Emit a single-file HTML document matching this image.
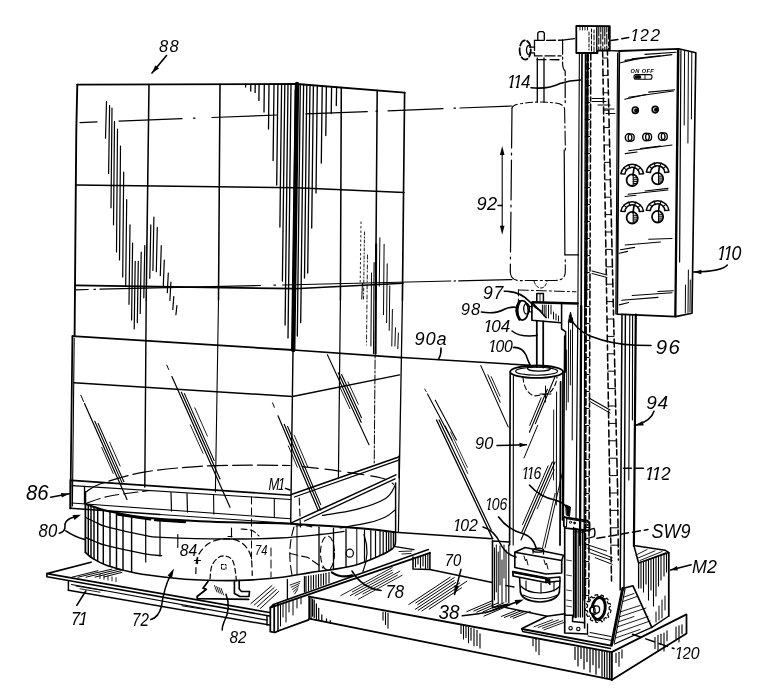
<!DOCTYPE html>
<html><head><meta charset="utf-8"><title>Fig</title>
<style>
html,body{margin:0;padding:0;background:#fff;}
body{width:770px;height:690px;overflow:hidden;}
svg{display:block;will-change:transform;opacity:0.999}
svg text{font-family:"Liberation Sans",sans-serif;font-style:italic;fill:#000;stroke:none}
</style></head><body>
<svg width="770" height="690" viewBox="0 0 770 690" fill="none" stroke="#000" stroke-linecap="round" stroke-linejoin="round">
<rect x="0" y="0" width="770" height="690" fill="#fff" stroke="none"/>
<path d="M77.3 84.6 L297 84 L404.6 92.6" stroke-width="1.87" fill="none"/>
<path d="M77.3 84.6 L76.3 130 L75.7 200 L74.6 336" stroke-width="1.87" fill="none"/>
<line x1="297" y1="84" x2="293.2" y2="350" stroke-width="4.4"/>
<line x1="295.3" y1="90" x2="292.6" y2="345" stroke-width="1.32"/>
<line x1="293" y1="350" x2="290.7" y2="523" stroke-width="1.43"/>
<line x1="404.6" y1="92.6" x2="402.4" y2="300" stroke-width="1.65"/>
<line x1="402.4" y1="300" x2="399.4" y2="470" stroke-width="1.32"/>
<line x1="399.4" y1="470" x2="398.4" y2="532.5" stroke-width="1.21"/>
<line x1="149" y1="84.5" x2="146.2" y2="300" stroke-width="1.54"/>
<line x1="146.2" y1="300" x2="144.8" y2="487" stroke-width="1.43"/>
<line x1="220" y1="84.3" x2="218.5" y2="300" stroke-width="1.54"/>
<line x1="218.5" y1="300" x2="215.4" y2="492" stroke-width="1.1"/>
<line x1="341.3" y1="87.5" x2="340.4" y2="300" stroke-width="1.54"/>
<line x1="340.4" y1="300" x2="338.4" y2="478" stroke-width="1.21"/>
<line x1="377.2" y1="90.4" x2="375.6" y2="300" stroke-width="1.54"/>
<line x1="375.6" y1="300" x2="374.2" y2="464" stroke-width="0.99" stroke-dasharray="9 2 2 2"/>
<line x1="76.2" y1="185.1" x2="296" y2="187.8" stroke-width="1.54"/>
<line x1="75.5" y1="285.3" x2="294.3" y2="288.7" stroke-width="1.76"/>
<line x1="296" y1="187.8" x2="404" y2="192.5" stroke-width="1.54"/>
<line x1="294.3" y1="288.7" x2="403" y2="283.2" stroke-width="1.54"/>
<line x1="72.6" y1="336.1" x2="293.2" y2="350" stroke-width="1.76"/>
<line x1="293.2" y1="350" x2="402" y2="357.6" stroke-width="1.65"/>
<line x1="72.4" y1="336.1" x2="70.4" y2="508.3" stroke-width="1.76"/>
<line x1="74.2" y1="338" x2="72.4" y2="506" stroke-width="1.1"/>
<line x1="74" y1="382.7" x2="292.5" y2="396.5" stroke-width="1.43"/>
<line x1="292.5" y1="396.5" x2="399.6" y2="374.9" stroke-width="1.43"/>
<line x1="80" y1="122.6" x2="97" y2="121.9" stroke-width="1.21"/>
<line x1="119" y1="121.1" x2="182" y2="118.7" stroke-width="1.21"/>
<line x1="193.5" y1="118.2" x2="195" y2="118.2" stroke-width="1.21"/>
<line x1="212" y1="117.5" x2="277.4" y2="115" stroke-width="1.21"/>
<line x1="306" y1="113.9" x2="367.3" y2="111.6" stroke-width="1.21"/>
<line x1="376" y1="111.2" x2="377.5" y2="111.2" stroke-width="1.21"/>
<line x1="388" y1="110.8" x2="443" y2="108.7" stroke-width="1.21"/>
<line x1="454" y1="108.2" x2="455.5" y2="108.2" stroke-width="1.21"/>
<line x1="460" y1="108" x2="512" y2="106" stroke-width="1.21"/>
<line x1="76" y1="289.8" x2="88.2" y2="289.5" stroke-width="1.21"/>
<line x1="94" y1="289.4" x2="95.5" y2="289.3" stroke-width="1.21"/>
<line x1="100" y1="289.2" x2="260.4" y2="285.5" stroke-width="1.21"/>
<line x1="274" y1="285.2" x2="275.5" y2="285.1" stroke-width="1.21"/>
<line x1="282.6" y1="285" x2="450.8" y2="281" stroke-width="1.21"/>
<line x1="454" y1="281" x2="455.5" y2="280.9" stroke-width="1.21"/>
<line x1="458.7" y1="280.8" x2="512" y2="279.6" stroke-width="1.21"/>
<line x1="106.5" y1="101.7" x2="105.5" y2="138.2" stroke-width="1.21"/>
<line x1="109.6" y1="105.6" x2="108.6" y2="173.4" stroke-width="1.21"/>
<line x1="112" y1="108.2" x2="111" y2="207.8" stroke-width="1.21"/>
<line x1="114.5" y1="121.3" x2="113.5" y2="224.8" stroke-width="1.21"/>
<line x1="117.5" y1="129" x2="116.5" y2="252" stroke-width="1.21"/>
<line x1="120.5" y1="146" x2="119.5" y2="260" stroke-width="1.21"/>
<line x1="123.7" y1="172" x2="122.7" y2="277" stroke-width="1.21"/>
<line x1="126.7" y1="199.5" x2="125.7" y2="286" stroke-width="1.21"/>
<line x1="130" y1="224.8" x2="129" y2="304.3" stroke-width="1.21"/>
<line x1="132.6" y1="243" x2="131.6" y2="320" stroke-width="1.21"/>
<line x1="135.2" y1="261.3" x2="134.2" y2="329" stroke-width="1.21"/>
<line x1="138.3" y1="261.3" x2="137.3" y2="322.6" stroke-width="1.21"/>
<line x1="141.2" y1="252" x2="140.2" y2="313.4" stroke-width="1.21"/>
<line x1="144.8" y1="245.6" x2="143.8" y2="297.8" stroke-width="1.21"/>
<line x1="150.8" y1="224.8" x2="149.8" y2="278.2" stroke-width="1.21"/>
<line x1="153.9" y1="217" x2="152.9" y2="270.4" stroke-width="1.21"/>
<line x1="157.3" y1="227.4" x2="156.3" y2="271.7" stroke-width="1.21"/>
<line x1="161.3" y1="245.6" x2="160.3" y2="275.6" stroke-width="1.21"/>
<line x1="164.3" y1="260" x2="163.3" y2="286" stroke-width="1.21"/>
<line x1="168.3" y1="273" x2="167.3" y2="292.6" stroke-width="1.21"/>
<line x1="170.9" y1="282" x2="169.9" y2="300.4" stroke-width="1.21"/>
<line x1="173.8" y1="296.5" x2="172.8" y2="309.5" stroke-width="1.21"/>
<line x1="176.9" y1="305.6" x2="175.9" y2="314.7" stroke-width="1.21"/>
<line x1="245.6" y1="84.3" x2="245.6" y2="87" stroke-width="1.32"/>
<line x1="250.8" y1="84.3" x2="250.7" y2="91" stroke-width="1.32"/>
<line x1="255.2" y1="84.3" x2="255.1" y2="92.6" stroke-width="1.32"/>
<line x1="259.1" y1="84.3" x2="258.9" y2="100.4" stroke-width="1.32"/>
<line x1="264.3" y1="84.3" x2="264" y2="112" stroke-width="1.32"/>
<line x1="269" y1="84.3" x2="268.5" y2="129" stroke-width="1.32"/>
<line x1="274" y1="84.3" x2="273.1" y2="160.4" stroke-width="1.32"/>
<line x1="277.9" y1="84.3" x2="276.7" y2="185" stroke-width="1.32"/>
<line x1="281.6" y1="84.3" x2="279.9" y2="227" stroke-width="1.32"/>
<line x1="284.8" y1="84.3" x2="282.4" y2="281" stroke-width="1.32"/>
<line x1="288" y1="84.3" x2="285.1" y2="325" stroke-width="1.32"/>
<line x1="291" y1="84.3" x2="288" y2="338" stroke-width="1.32"/>
<line x1="300.3" y1="84.3" x2="297.3" y2="336" stroke-width="1.32"/>
<line x1="303.6" y1="84.5" x2="300.7" y2="322.6" stroke-width="1.32"/>
<line x1="306.8" y1="84.8" x2="304.5" y2="278" stroke-width="1.32"/>
<line x1="310" y1="85" x2="307.7" y2="273" stroke-width="1.32"/>
<line x1="313.4" y1="85.3" x2="311.7" y2="228" stroke-width="1.32"/>
<line x1="317.3" y1="85.6" x2="316" y2="193" stroke-width="1.32"/>
<line x1="322.2" y1="86" x2="321.3" y2="163" stroke-width="1.32"/>
<line x1="326.4" y1="86.4" x2="325.8" y2="135.6" stroke-width="1.32"/>
<line x1="331.6" y1="86.8" x2="331.2" y2="113.5" stroke-width="1.32"/>
<line x1="336.6" y1="87.2" x2="336.3" y2="105.6" stroke-width="1.32"/>
<line x1="362.4" y1="283.4" x2="361.8" y2="299" stroke-width="0.99"/>
<line x1="371.5" y1="273" x2="370.9" y2="346" stroke-width="0.99"/>
<line x1="374.1" y1="262.6" x2="373.5" y2="353.8" stroke-width="1.1"/>
<line x1="376.2" y1="244.3" x2="375.6" y2="353.8" stroke-width="1.98"/>
<line x1="379.9" y1="237.8" x2="379.3" y2="286" stroke-width="0.99"/>
<line x1="384.1" y1="244.3" x2="383.5" y2="314.7" stroke-width="0.99"/>
<line x1="387.2" y1="263.9" x2="386.6" y2="322.6" stroke-width="0.99"/>
<line x1="389.8" y1="286" x2="389.2" y2="330.4" stroke-width="0.99"/>
<line x1="392.4" y1="309.5" x2="391.8" y2="346" stroke-width="0.99"/>
<line x1="395.5" y1="327.8" x2="394.9" y2="346" stroke-width="0.99"/>
<line x1="398.4" y1="333" x2="397.8" y2="348.6" stroke-width="0.99"/>
<line x1="361" y1="222" x2="360.2" y2="282" stroke-width="0.88" stroke-dasharray="1.5 3"/>
<line x1="364.5" y1="232" x2="363.5" y2="300" stroke-width="0.88" stroke-dasharray="3 2 1 2"/>
<line x1="367.5" y1="255" x2="366.5" y2="345" stroke-width="0.88" stroke-dasharray="4 2 1 3"/>
<line x1="80.8" y1="395.2" x2="83.6" y2="401.5" stroke-width="0.99"/>
<line x1="84.5" y1="403.5" x2="127" y2="499.5" stroke-width="1.21"/>
<line x1="94.8" y1="421.3" x2="122.5" y2="483.9" stroke-width="1.1"/>
<line x1="98.1" y1="423.4" x2="123.9" y2="481.8" stroke-width="1.1"/>
<line x1="101.7" y1="447.4" x2="113.2" y2="473.4" stroke-width="0.88"/>
<line x1="109.6" y1="442.1" x2="120.2" y2="466.1" stroke-width="0.88"/>
<line x1="166.8" y1="365.2" x2="168.7" y2="369.5" stroke-width="0.99"/>
<line x1="171.9" y1="376.6" x2="230" y2="507.3" stroke-width="1.21"/>
<line x1="181.4" y1="392.2" x2="220" y2="478.9" stroke-width="1.21"/>
<line x1="184.4" y1="393.6" x2="214.1" y2="460.4" stroke-width="1.1"/>
<line x1="194.8" y1="407.8" x2="207.4" y2="436.2" stroke-width="0.88"/>
<line x1="190.3" y1="424.9" x2="203" y2="453.3" stroke-width="0.88"/>
<line x1="272.6" y1="403" x2="274.4" y2="407.3" stroke-width="0.99"/>
<line x1="278" y1="415.8" x2="318" y2="510" stroke-width="1.21"/>
<line x1="284.3" y1="424.4" x2="320.6" y2="510" stroke-width="1.21"/>
<line x1="287.6" y1="426.5" x2="320.7" y2="504.6" stroke-width="1.1"/>
<line x1="294.2" y1="435.1" x2="307.8" y2="467.2" stroke-width="0.88"/>
<line x1="288.3" y1="445.8" x2="297.3" y2="467.2" stroke-width="0.88"/>
<line x1="327.4" y1="354.8" x2="369" y2="444.7" stroke-width="1.1"/>
<line x1="338.3" y1="372.8" x2="361.2" y2="422.2" stroke-width="1.21"/>
<line x1="341.6" y1="374.6" x2="361.5" y2="417.7" stroke-width="1.1"/>
<line x1="347.9" y1="381.8" x2="358.3" y2="404.2" stroke-width="0.88"/>
<line x1="339.5" y1="386.3" x2="349.9" y2="408.7" stroke-width="0.88"/>
<line x1="71.5" y1="480.4" x2="290.7" y2="495.2" stroke-width="1.65"/>
<line x1="72" y1="485.6" x2="290.7" y2="499.5" stroke-width="1.1"/>
<line x1="70.4" y1="508.3" x2="160" y2="514.5" stroke-width="1.65"/>
<line x1="160" y1="514.5" x2="290.7" y2="523.4" stroke-width="0.99"/>
<line x1="72" y1="503" x2="290.7" y2="518.8" stroke-width="1.1"/>
<line x1="70.4" y1="480" x2="70.4" y2="508.3" stroke-width="1.76"/>
<line x1="84.5" y1="486.5" x2="84.5" y2="503.5" stroke-width="1.32"/>
<line x1="171" y1="492.5" x2="171.5" y2="511" stroke-width="1.21"/>
<line x1="187" y1="493.5" x2="187.5" y2="512" stroke-width="1.21"/>
<line x1="213.6" y1="495" x2="213.8" y2="514" stroke-width="1.1"/>
<line x1="274.3" y1="498.6" x2="274.3" y2="517.5" stroke-width="1.1"/>
<line x1="291.3" y1="494.6" x2="398.7" y2="457" stroke-width="1.54"/>
<line x1="294.5" y1="497" x2="398.7" y2="460.2" stroke-width="1.32"/>
<line x1="291.3" y1="522.9" x2="395.9" y2="474.9" stroke-width="1.54"/>
<line x1="304.5" y1="521" x2="395" y2="478.8" stroke-width="1.32"/>
<line x1="399.1" y1="456" x2="399.1" y2="477.7" stroke-width="1.43"/>
<line x1="85.4" y1="492" x2="85.4" y2="552.3" stroke-width="1.76"/>
<path d="M85.8 504 C88.2 504.8 94.9 507.5 100 509 C105.1 510.5 109 511.4 116.5 512.8 C124 514.2 130.9 516.1 144.8 517.5 C158.7 518.9 181.8 520.3 200 521.2 C218.2 522.1 238.9 522.4 254 522.8 C269.1 523.2 272.2 522.8 290.4 523.8 C308.6 524.8 345.6 527.2 363 528.6 C380.4 530 389.7 531.7 395 532.3" stroke-width="1.98" fill="none"/>
<path d="M85.6 517.5 C87.2 518.2 91.4 520.4 95 522 C98.6 523.6 98.7 524.7 107 526.9 C115.3 529.1 135.7 533.7 144.8 535.4 C153.9 537.1 148.2 536.7 161.7 537.3 C175.2 537.9 206.3 538.9 226 539 C245.7 539.1 264.3 538.8 280 538 C295.7 537.2 309.3 535.6 320 534.5 C330.7 533.4 340 531.9 344 531.4" stroke-width="1.32" fill="none"/>
<path d="M85.4 537.3 C87 538 91.4 540.1 95 541.5 C98.6 542.9 98.7 543.7 107 545.7 C115.3 547.8 135.7 552.1 144.8 553.8 C153.9 555.5 158.9 555.4 161.7 555.7" stroke-width="1.32" fill="none"/>
<path d="M85.4 552.3 C86.5 553.2 88.4 555.8 92 558 C95.6 560.2 99.8 563 107 565.5 C114.2 568 124.9 571 135.4 573 C145.9 575 159.2 576.6 170 577.8 C180.8 579 188.3 579.6 200 580 C211.7 580.4 226.7 580.8 240 580.4 C253.3 580 268.3 578.8 280 577.5 C291.7 576.2 301.1 574 310 572.6 C318.9 571.2 325.6 570.7 333.4 569.4 C341.2 568.1 349 567 356.8 564.7 C364.6 562.4 374.1 558.2 380 555.6 C385.9 553 389.5 550.9 392 549 C394.5 547.1 394.6 546.9 395.2 544 C395.8 541.1 395.4 533.8 395.5 531.8" stroke-width="1.65" fill="none"/>
<line x1="88.3" y1="505.9" x2="88.3" y2="554.8" stroke-width="1.43"/>
<line x1="91" y1="506.8" x2="91" y2="557.1" stroke-width="1.43"/>
<line x1="94" y1="507.9" x2="94" y2="559" stroke-width="1.43"/>
<line x1="97.7" y1="509.2" x2="97.7" y2="560.9" stroke-width="1.43"/>
<line x1="103.3" y1="510.8" x2="103.3" y2="563.6" stroke-width="1.43"/>
<line x1="110" y1="512.3" x2="110" y2="566.3" stroke-width="1.43"/>
<line x1="116.5" y1="513.8" x2="116.5" y2="568" stroke-width="1.43"/>
<line x1="123" y1="514.9" x2="123" y2="569.7" stroke-width="1.43"/>
<line x1="131.6" y1="516.3" x2="131.6" y2="572" stroke-width="1.43"/>
<line x1="145.7" y1="518" x2="145.7" y2="562" stroke-width="1.21"/>
<line x1="160" y1="519.5" x2="160" y2="556" stroke-width="1.21"/>
<line x1="177.8" y1="534.5" x2="177.8" y2="547.5" stroke-width="1.1"/>
<line x1="118" y1="514.5" x2="150" y2="519.3" stroke-width="2.64"/>
<line x1="155" y1="520" x2="185" y2="522" stroke-width="2.42"/>
<line x1="356.8" y1="529.2" x2="356.8" y2="564.2" stroke-width="0.99"/>
<line x1="364.5" y1="529.8" x2="364.5" y2="561.2" stroke-width="1.21"/>
<line x1="370.8" y1="530.5" x2="370.8" y2="558.7" stroke-width="1.21"/>
<line x1="375.5" y1="531" x2="375.5" y2="556.9" stroke-width="1.21"/>
<line x1="380" y1="531.6" x2="380" y2="555.1" stroke-width="1.21"/>
<line x1="383.2" y1="531.9" x2="383.2" y2="553.3" stroke-width="1.21"/>
<line x1="386.4" y1="532.3" x2="386.4" y2="551.6" stroke-width="1.21"/>
<line x1="388.7" y1="532.6" x2="388.7" y2="550.3" stroke-width="1.21"/>
<line x1="391" y1="532.8" x2="391" y2="549" stroke-width="1.21"/>
<line x1="393.4" y1="533.1" x2="393.4" y2="546.3" stroke-width="1.21"/>
<path d="M322.4 515.4 C327.9 514.4 344.9 512.5 355.4 509.7 C365.9 506.9 378.9 502.5 385.5 498.4 C392.1 494.3 393.7 487.4 395.3 485.2" stroke-width="1.21" fill="none"/>
<path d="M340 528 C344.8 527.1 361.2 524.5 368.8 522.7 C376.4 520.9 381.1 519.2 385.5 517 C389.9 514.8 393.7 510.9 395.3 509.7" stroke-width="1.21" fill="none"/>
<line x1="395.6" y1="483" x2="395.6" y2="531" stroke-width="1.43"/>
<path d="M86.5 491.7 C88.8 490.4 90.4 487.3 100 484 C109.6 480.7 127.2 475.1 143.9 472.1 C160.6 469.2 182.3 467.5 200 466.3 C217.7 465.1 235 465.3 250 465.2 C265 465.1 283.3 465.4 290 465.5" stroke-width="1.21" fill="none" stroke-dasharray="20 5"/>
<path d="M302.3 466.6 C308.2 467.3 324.5 468.9 337.7 470.8 C350.9 472.7 371.9 475.8 381.3 478 C390.7 480.2 391.7 483.2 393.8 484.3" stroke-width="1.21" fill="none" stroke-dasharray="16 7"/>
<path d="M87 503 C90.8 501.8 99.5 498.1 110 496 C120.5 493.9 143.3 491.4 150 490.5" stroke-width="1.1" fill="none" stroke-dasharray="14 5"/>
<ellipse cx="327.5" cy="553" rx="7" ry="17" stroke-width="1.1" fill="none" stroke-dasharray="6 4"/>
<ellipse cx="349.8" cy="553.2" rx="3.6" ry="4" stroke-width="1.21" fill="none"/>
<path d="M364 534.5 Q370.5 553 363 571.5" stroke-width="1.21" fill="none"/>
<path d="M331.8 572.3 Q341 578.5 352 575.4" stroke-width="2.2" fill="none"/>
<line x1="297" y1="525.7" x2="297" y2="574.2" stroke-width="0.99"/>
<line x1="319" y1="527.2" x2="319" y2="570.9" stroke-width="1.32"/>
<line x1="333.5" y1="528.1" x2="333.5" y2="568.9" stroke-width="1.32"/>
<line x1="346" y1="529" x2="346" y2="566.4" stroke-width="1.32"/>
<path d="M294 527 Q286.5 551 292.5 577" stroke-width="1.1" fill="none" stroke-dasharray="9 4"/>
<line x1="299.2" y1="498" x2="300.5" y2="528" stroke-width="1.1" stroke-dasharray="7 4"/>
<path d="M290 553.5 L308 557.5 L323 568" stroke-width="1.1" fill="none" stroke-dasharray="8 4"/>
<path d="M296 526 Q305 524.5 314 527.5" stroke-width="1.1" fill="none" stroke-dasharray="6 4"/>
<line x1="271" y1="548" x2="271" y2="577" stroke-width="0.99" stroke-dasharray="8 4"/>
<path d="M195.8 573.5 C196.1 570.7 195.5 561.5 197.7 556.5 C199.9 551.5 204.3 546.2 209 543.3 C213.7 540.3 220.7 538.9 226 538.8 C231.3 538.6 236.9 539.8 241 542.4 C245.1 545 248.5 549.1 250.4 554.6 C252.3 560.1 252 571.9 252.3 575.4" stroke-width="1.21" fill="none" stroke-dasharray="6 4"/>
<path d="M210 579 C210.3 576.8 210.4 569.6 211.8 566 C213.2 562.4 216 559.1 218.4 557.5 C220.8 555.9 223.7 555.7 226 556.2 C228.3 556.7 230.9 557.7 232.5 560.3 C234.1 562.9 234.8 568.1 235.4 571.6 C236 575.1 236.2 579.4 236.3 581" stroke-width="1.21" fill="none" stroke-dasharray="5 3"/>
<path d="M221.5 564.5 L226 564.5 L226 569.2 L221.5 569.2 Z" stroke-width="0.99" fill="none" stroke-dasharray="2 1.5"/>
<path d="M241 529 C242.8 529.2 249 529.3 252 530.5 C255 531.7 257.8 535.1 259 536" stroke-width="1.1" fill="none" stroke-dasharray="6 3"/>
<line x1="231.5" y1="528" x2="231.5" y2="537" stroke-width="1.1"/>
<line x1="228" y1="536.5" x2="232" y2="536.5" stroke-width="1.1"/>
<line x1="251.5" y1="497" x2="251.5" y2="560" stroke-width="0.99" stroke-dasharray="7 4"/>
<line x1="194.5" y1="560.5" x2="200.5" y2="560.5" stroke-width="1.1"/>
<line x1="197.6" y1="557.3" x2="197.6" y2="563.8" stroke-width="1.1"/>
<path d="M208 581.4 L203 588.2 L206.4 589.3 L197.1 596.5 L197.3 598.6 L248.6 599.3" stroke-width="1.76" fill="none"/>
<path d="M234.4 581 L234.4 593.5 L240 596.5 L249 596.5 L249.5 591.5 L241.5 591.5 L239.2 589 L239.2 581" stroke-width="1.65" fill="none"/>
<line x1="214.5" y1="585.5" x2="217" y2="592" stroke-width="0.88"/>
<line x1="216.7" y1="586.5" x2="219.2" y2="593" stroke-width="0.88"/>
<line x1="218.9" y1="587.5" x2="221.4" y2="594" stroke-width="0.88"/>
<line x1="221.1" y1="588.5" x2="223.6" y2="595" stroke-width="0.88"/>
<path d="M91 562.2 L46.9 573.6 L269.5 612.5" stroke-width="1.65" fill="none"/>
<path d="M46.9 573.6 L46.9 576.8 L269.5 616" stroke-width="1.65" fill="none"/>
<line x1="68.4" y1="581" x2="68.4" y2="590.3" stroke-width="1.43"/>
<line x1="68.4" y1="590.3" x2="269.5" y2="625" stroke-width="1.54"/>
<line x1="71.5" y1="584.5" x2="267" y2="620.2" stroke-width="1.21"/>
<line x1="267" y1="616" x2="267" y2="625" stroke-width="1.43"/>
<line x1="72" y1="577.2" x2="98" y2="570.7" stroke-width="0.99"/>
<line x1="78" y1="577.2" x2="112" y2="569.1" stroke-width="0.99"/>
<line x1="86" y1="577.2" x2="120" y2="569" stroke-width="0.99"/>
<line x1="95" y1="577.1" x2="121" y2="570.7" stroke-width="0.99"/>
<line x1="104" y1="577" x2="122" y2="572.3" stroke-width="0.99"/>
<line x1="100" y1="574.5" x2="100" y2="578.5" stroke-width="0.88"/>
<line x1="104" y1="575.3" x2="104" y2="579.3" stroke-width="0.88"/>
<line x1="108" y1="576.1" x2="108" y2="580.1" stroke-width="0.88"/>
<line x1="112" y1="576.9" x2="112" y2="580.9" stroke-width="0.88"/>
<line x1="116" y1="577.7" x2="116" y2="581.7" stroke-width="0.88"/>
<line x1="251" y1="603.5" x2="272" y2="585.5" stroke-width="0.99"/>
<line x1="254.2" y1="605.1" x2="274.2" y2="587.5" stroke-width="0.99"/>
<line x1="257.4" y1="606.7" x2="276.4" y2="589.5" stroke-width="0.99"/>
<line x1="260.6" y1="608.3" x2="278.6" y2="591.5" stroke-width="0.99"/>
<line x1="76" y1="586" x2="105" y2="590.8" stroke-width="0.99"/>
<line x1="80" y1="588.8" x2="100" y2="592.2" stroke-width="0.88"/>
<line x1="182" y1="605.8" x2="205" y2="609.5" stroke-width="0.99"/>
<line x1="402" y1="357.6" x2="530" y2="365.3" stroke-width="1.54"/>
<line x1="395" y1="532.3" x2="492.6" y2="538.8" stroke-width="1.54"/>
<line x1="480.8" y1="365.6" x2="508.2" y2="426.9" stroke-width="1.1"/>
<line x1="487.9" y1="374.8" x2="500.2" y2="402.4" stroke-width="0.99"/>
<line x1="491.2" y1="376.6" x2="500" y2="396.2" stroke-width="0.88"/>
<line x1="424.8" y1="389" x2="426.2" y2="391.6" stroke-width="0.88"/>
<line x1="427.5" y1="394.1" x2="452" y2="440" stroke-width="1.1"/>
<line x1="435.3" y1="400.2" x2="456.5" y2="440" stroke-width="1.1"/>
<line x1="436.5" y1="420" x2="492.6" y2="538.6" stroke-width="1.32"/>
<line x1="439.1" y1="420" x2="491.3" y2="530.3" stroke-width="1.21"/>
<line x1="445.3" y1="425.9" x2="467.7" y2="473.4" stroke-width="0.88"/>
<line x1="450.6" y1="431.9" x2="467.4" y2="467.4" stroke-width="0.77"/>
<ellipse cx="536.6" cy="371.7" rx="26.4" ry="6.2" stroke-width="1.76" fill="none"/>
<ellipse cx="536.6" cy="371.2" rx="21" ry="4" stroke-width="1.1" fill="none"/>
<ellipse cx="539" cy="368.6" rx="11.5" ry="2.6" stroke-width="1.21" fill="none"/>
<line x1="510.2" y1="372" x2="509.6" y2="545" stroke-width="1.65"/>
<line x1="513.4" y1="376" x2="513.2" y2="545" stroke-width="1.1"/>
<line x1="563" y1="372" x2="562.4" y2="520" stroke-width="1.65"/>
<line x1="560.6" y1="382" x2="560" y2="545" stroke-width="1.76"/>
<line x1="556.6" y1="392" x2="556.3" y2="505" stroke-width="0.99"/>
<line x1="553.7" y1="410" x2="553.5" y2="480" stroke-width="0.88"/>
<path d="M523 377 Q524 392 534 396 L548 394 Q556 388 557 377" stroke-width="1.1" fill="none" stroke-dasharray="5 3"/>
<line x1="545.5" y1="386" x2="545.5" y2="402" stroke-width="0.99"/>
<line x1="540" y1="394" x2="551" y2="394" stroke-width="0.99"/>
<line x1="555.2" y1="376.3" x2="535.4" y2="423.6" stroke-width="1.1"/>
<line x1="547.4" y1="389.2" x2="529.4" y2="432.2" stroke-width="1.1"/>
<line x1="541.2" y1="397.8" x2="529.7" y2="425.3" stroke-width="0.99"/>
<line x1="537.7" y1="425.3" x2="524" y2="458" stroke-width="0.99"/>
<line x1="555" y1="462" x2="521" y2="540" stroke-width="1.1"/>
<line x1="552.4" y1="462" x2="521.8" y2="532.2" stroke-width="1.1"/>
<line x1="548.1" y1="465.9" x2="522.6" y2="524.4" stroke-width="0.99"/>
<line x1="554.2" y1="469.8" x2="537.2" y2="508.8" stroke-width="0.88"/>
<line x1="563" y1="470" x2="545" y2="548" stroke-width="0.99"/>
<line x1="555.1" y1="493.4" x2="542.5" y2="548" stroke-width="0.88"/>
<line x1="536.8" y1="321" x2="536.8" y2="367" stroke-width="1.76"/>
<line x1="543.2" y1="321.5" x2="543.2" y2="367.5" stroke-width="1.76"/>
<line x1="532.5" y1="302.3" x2="577.5" y2="303.5" stroke-width="2.64"/>
<path d="M531.9 303 L531.9 320.3 L561.1 322.7" stroke-width="1.65" fill="none"/>
<path d="M561.6 303.5 L561.6 329 L565.6 331.6 L565.6 372" stroke-width="1.54" fill="none"/>
<line x1="532.5" y1="302.8" x2="546" y2="317.5" stroke-width="1.43"/>
<line x1="542.4" y1="305" x2="542.4" y2="313" stroke-width="0.99"/>
<line x1="544.2" y1="305" x2="544.2" y2="316" stroke-width="0.99"/>
<line x1="546" y1="305" x2="546" y2="318" stroke-width="0.99"/>
<line x1="548.5" y1="305" x2="548.5" y2="318" stroke-width="0.99"/>
<line x1="551" y1="305" x2="551" y2="314" stroke-width="0.99"/>
<line x1="553.5" y1="312" x2="553.5" y2="319" stroke-width="0.99"/>
<line x1="556" y1="314" x2="556" y2="320" stroke-width="0.99"/>
<line x1="558.5" y1="316" x2="558.5" y2="321" stroke-width="0.99"/>
<path d="M570.6 312.5 L573.2 323 L568.6 322 Z" stroke-width="0.88" fill="#000"/>
<path d="M536.8 302 L536.8 293.6 L543.4 293.6 L543.4 302" stroke-width="1.54" fill="none"/>
<line x1="540" y1="294" x2="540" y2="302" stroke-width="0.88"/>
<ellipse cx="522.3" cy="310.4" rx="6" ry="9.7" stroke-width="1.76" fill="none"/>
<path d="M519.5 301.5 Q514.5 310.4 519.5 319.3" stroke-width="2.86" fill="none"/>
<ellipse cx="526.6" cy="308.8" rx="2.9" ry="5.3" stroke-width="1.32" fill="none"/>
<line x1="528.6" y1="306.2" x2="532" y2="306.8" stroke-width="1.21"/>
<line x1="528.6" y1="311.6" x2="532" y2="312" stroke-width="1.21"/>
<path d="M512 108 Q513 104.5 522 103.5 Q538 100.8 555 103 Q564 104 564.6 109" stroke-width="1.1" fill="none" stroke-dasharray="7 3 2 3"/>
<line x1="512" y1="108" x2="510.3" y2="272" stroke-width="1.21" stroke-dasharray="40 5 2 5"/>
<line x1="564.6" y1="109" x2="565.4" y2="150" stroke-width="1.1" stroke-dasharray="14 3 2 3"/>
<line x1="564.2" y1="150" x2="564.9" y2="254.8" stroke-width="1.21"/>
<line x1="564.9" y1="254.8" x2="578.6" y2="254.8" stroke-width="1.21"/>
<path d="M510.3 272 Q510.5 280 519 280.6 L556 280.4 Q565 280 565.3 272 L565.3 258" stroke-width="1.1" fill="none" stroke-dasharray="12 3 2 3"/>
<path d="M534 281 Q536 288 541 288 Q545.5 288 547 281" stroke-width="0.99" fill="none" stroke-dasharray="3 2"/>
<line x1="518.4" y1="290" x2="576" y2="291.8" stroke-width="0.99" stroke-dasharray="10 3 2 3"/>
<line x1="518.4" y1="290" x2="518.4" y2="301" stroke-width="0.99" stroke-dasharray="6 3"/>
<line x1="537.3" y1="58" x2="537.3" y2="102" stroke-width="1.32"/>
<line x1="544" y1="58" x2="544" y2="102" stroke-width="1.32"/>
<path d="M534.5 40.4 L562.6 40.2" stroke-width="1.32" fill="none" stroke-dasharray="9 3"/>
<path d="M534.5 40.4 L534.5 55.9 L561 55.9" stroke-width="1.32" fill="none" stroke-dasharray="10 3"/>
<line x1="537" y1="59.6" x2="561" y2="59.8" stroke-width="1.32" stroke-dasharray="9 4"/>
<path d="M562.6 40.2 L562.6 64 Q562.8 69 565.2 71 L565.2 104" stroke-width="1.21" fill="none" stroke-dasharray="14 3 2 3"/>
<path d="M537.8 40.2 L537.8 33 L539.4 31.6 L542.8 31.6 L544.3 33 L544.3 40.2" stroke-width="1.32" fill="none"/>
<ellipse cx="525.2" cy="50" rx="5.6" ry="9.6" stroke-width="1.76" fill="none" stroke-dasharray="7 2.5"/>
<path d="M530 45.5 Q526.5 45 526.5 50 Q526.5 55 530 54.5" stroke-width="1.32" fill="none"/>
<line x1="529.5" y1="47.2" x2="534.5" y2="47.2" stroke-width="1.21"/>
<line x1="529.5" y1="52.8" x2="534.5" y2="52.8" stroke-width="1.21"/>
<line x1="562.6" y1="40.2" x2="576.3" y2="38.3" stroke-width="1.32" stroke-dasharray="12 3 3 3"/>
<line x1="502.2" y1="152" x2="502.2" y2="228" stroke-width="1.1"/>
<path d="M502.2 146 L504.5 155 L499.9 155 Z" fill="#000" stroke="none"/>
<path d="M502.2 234.7 L499.9 225.7 L504.5 225.7 Z" fill="#000" stroke="none"/>
<path d="M576.3 25.8 L609.8 26.2 L609.8 50.6 L597.5 50.6 L597.5 53 L576.3 53 Z" stroke-width="1.76" fill="none"/>
<line x1="598.8" y1="27" x2="598.8" y2="50" stroke-width="1.1" stroke-dasharray="9 2 6 3"/>
<line x1="600.8" y1="27" x2="600.8" y2="50" stroke-width="1.1" stroke-dasharray="5 2 10 2"/>
<line x1="602.8" y1="27" x2="602.8" y2="50" stroke-width="1.1" stroke-dasharray="12 3 4 2"/>
<line x1="604.8" y1="27" x2="604.8" y2="50" stroke-width="1.1" stroke-dasharray="9 2 6 3"/>
<line x1="606.8" y1="27" x2="606.8" y2="50" stroke-width="1.1" stroke-dasharray="5 2 10 2"/>
<line x1="608.6" y1="27" x2="608.6" y2="50" stroke-width="1.1" stroke-dasharray="12 3 4 2"/>
<line x1="596.8" y1="27" x2="596.8" y2="52" stroke-width="1.43"/>
<line x1="589" y1="32" x2="589" y2="50" stroke-width="0.99" stroke-dasharray="3 2 5 2"/>
<line x1="591.5" y1="29" x2="591.5" y2="52" stroke-width="0.99" stroke-dasharray="3 2 5 2"/>
<line x1="594" y1="30" x2="594" y2="52" stroke-width="0.99" stroke-dasharray="3 2 5 2"/>
<line x1="580" y1="27" x2="580" y2="30" stroke-width="0.88"/>
<line x1="582.5" y1="27" x2="582.5" y2="30" stroke-width="0.88"/>
<line x1="585" y1="27" x2="585" y2="30" stroke-width="0.88"/>
<line x1="587.5" y1="27" x2="587.5" y2="30" stroke-width="0.88"/>
<line x1="579.4" y1="53" x2="577.9" y2="306" stroke-width="1.1"/>
<line x1="577.9" y1="306" x2="576" y2="520" stroke-width="1.21"/>
<line x1="582" y1="53" x2="581.2" y2="306" stroke-width="1.65"/>
<line x1="581.2" y1="306" x2="580" y2="545" stroke-width="2.31"/>
<line x1="585.4" y1="53" x2="584" y2="600" stroke-width="1.32"/>
<line x1="587.6" y1="55" x2="586" y2="300" stroke-width="2.86" stroke-dasharray="6 2.5"/>
<line x1="586" y1="300" x2="585.2" y2="598" stroke-width="1.98" stroke-dasharray="6 3"/>
<line x1="590.8" y1="53" x2="588.8" y2="600" stroke-width="1.54" stroke-dasharray="7 3 4 3"/>
<line x1="585.4" y1="68.5" x2="590" y2="68.5" stroke-width="0.99"/>
<line x1="585.3" y1="85.5" x2="589.9" y2="85.5" stroke-width="0.99"/>
<line x1="585.3" y1="102.5" x2="589.9" y2="102.5" stroke-width="0.99"/>
<line x1="585.2" y1="119.5" x2="589.8" y2="119.5" stroke-width="0.99"/>
<line x1="585.2" y1="136.5" x2="589.8" y2="136.5" stroke-width="0.99"/>
<line x1="585.1" y1="153.5" x2="589.7" y2="153.5" stroke-width="0.99"/>
<line x1="585.1" y1="170.5" x2="589.7" y2="170.5" stroke-width="0.99"/>
<line x1="585.1" y1="187.5" x2="589.7" y2="187.5" stroke-width="0.99"/>
<line x1="585" y1="204.5" x2="589.6" y2="204.5" stroke-width="0.99"/>
<line x1="585" y1="221.5" x2="589.6" y2="221.5" stroke-width="0.99"/>
<line x1="584.9" y1="238.5" x2="589.5" y2="238.5" stroke-width="0.99"/>
<line x1="584.9" y1="255.5" x2="589.5" y2="255.5" stroke-width="0.99"/>
<line x1="584.8" y1="272.5" x2="589.4" y2="272.5" stroke-width="0.99"/>
<line x1="584.8" y1="289.5" x2="589.4" y2="289.5" stroke-width="0.99"/>
<line x1="584.7" y1="306.5" x2="589.3" y2="306.5" stroke-width="0.99"/>
<line x1="584.7" y1="323.5" x2="589.3" y2="323.5" stroke-width="0.99"/>
<line x1="584.7" y1="340.5" x2="589.3" y2="340.5" stroke-width="0.99"/>
<line x1="584.6" y1="357.5" x2="589.2" y2="357.5" stroke-width="0.99"/>
<line x1="584.6" y1="374.5" x2="589.2" y2="374.5" stroke-width="0.99"/>
<line x1="584.5" y1="391.5" x2="589.1" y2="391.5" stroke-width="0.99"/>
<line x1="584.5" y1="408.5" x2="589.1" y2="408.5" stroke-width="0.99"/>
<line x1="584.4" y1="425.5" x2="589" y2="425.5" stroke-width="0.99"/>
<line x1="584.4" y1="442.5" x2="589" y2="442.5" stroke-width="0.99"/>
<line x1="584.3" y1="459.5" x2="588.9" y2="459.5" stroke-width="0.99"/>
<line x1="584.3" y1="476.5" x2="588.9" y2="476.5" stroke-width="0.99"/>
<line x1="584.3" y1="493.5" x2="588.9" y2="493.5" stroke-width="0.99"/>
<line x1="584.2" y1="510.5" x2="588.8" y2="510.5" stroke-width="0.99"/>
<line x1="584.2" y1="527.5" x2="588.8" y2="527.5" stroke-width="0.99"/>
<line x1="584.1" y1="544.5" x2="588.7" y2="544.5" stroke-width="0.99"/>
<line x1="584.1" y1="561.5" x2="588.7" y2="561.5" stroke-width="0.99"/>
<line x1="584" y1="578.5" x2="588.6" y2="578.5" stroke-width="0.99"/>
<line x1="584" y1="595.5" x2="588.6" y2="595.5" stroke-width="0.99"/>
<line x1="602.6" y1="50" x2="609.8" y2="490" stroke-width="1.54" stroke-dasharray="7 3 5 4"/>
<line x1="609.8" y1="490" x2="611.6" y2="584" stroke-width="1.54" stroke-dasharray="7 3 5 4"/>
<line x1="607.4" y1="50" x2="617.6" y2="490" stroke-width="1.54" stroke-dasharray="5 4 8 3"/>
<line x1="617.6" y1="490" x2="618.4" y2="560" stroke-width="1.54" stroke-dasharray="5 4 8 3"/>
<line x1="602.7" y1="58" x2="607.6" y2="58" stroke-width="0.99"/>
<line x1="603" y1="75.4" x2="608" y2="75.4" stroke-width="0.99"/>
<line x1="603.3" y1="92.8" x2="608.4" y2="92.8" stroke-width="0.99"/>
<line x1="603.6" y1="110.2" x2="608.8" y2="110.2" stroke-width="0.99"/>
<line x1="603.9" y1="127.6" x2="609.2" y2="127.6" stroke-width="0.99"/>
<line x1="604.2" y1="145" x2="609.6" y2="145" stroke-width="0.99"/>
<line x1="604.4" y1="162.4" x2="610" y2="162.4" stroke-width="0.99"/>
<line x1="604.7" y1="179.8" x2="610.4" y2="179.8" stroke-width="0.99"/>
<line x1="605" y1="197.2" x2="610.8" y2="197.2" stroke-width="0.99"/>
<line x1="605.3" y1="214.6" x2="611.2" y2="214.6" stroke-width="0.99"/>
<line x1="605.6" y1="232" x2="611.6" y2="232" stroke-width="0.99"/>
<line x1="605.9" y1="249.4" x2="612" y2="249.4" stroke-width="0.99"/>
<line x1="606.2" y1="266.8" x2="612.4" y2="266.8" stroke-width="0.99"/>
<line x1="606.4" y1="284.2" x2="612.8" y2="284.2" stroke-width="0.99"/>
<line x1="606.7" y1="301.6" x2="613.2" y2="301.6" stroke-width="0.99"/>
<line x1="607" y1="319" x2="613.6" y2="319" stroke-width="0.99"/>
<line x1="607.3" y1="336.4" x2="614" y2="336.4" stroke-width="0.99"/>
<line x1="607.6" y1="353.8" x2="614.4" y2="353.8" stroke-width="0.99"/>
<line x1="607.9" y1="371.2" x2="614.9" y2="371.2" stroke-width="0.99"/>
<line x1="608.2" y1="388.6" x2="615.3" y2="388.6" stroke-width="0.99"/>
<line x1="608.4" y1="406" x2="615.7" y2="406" stroke-width="0.99"/>
<line x1="608.7" y1="423.4" x2="616.1" y2="423.4" stroke-width="0.99"/>
<line x1="609" y1="440.8" x2="616.5" y2="440.8" stroke-width="0.99"/>
<line x1="609.3" y1="458.2" x2="616.9" y2="458.2" stroke-width="0.99"/>
<line x1="609.6" y1="475.6" x2="617.3" y2="475.6" stroke-width="0.99"/>
<line x1="609.9" y1="493" x2="617.7" y2="493" stroke-width="0.99"/>
<line x1="610.2" y1="510.4" x2="618.1" y2="510.4" stroke-width="0.99"/>
<line x1="610.4" y1="527.8" x2="618.5" y2="527.8" stroke-width="0.99"/>
<line x1="610.7" y1="545.2" x2="618.9" y2="545.2" stroke-width="0.99"/>
<line x1="592" y1="98.5" x2="604" y2="98.5" stroke-width="1.21"/>
<line x1="592" y1="101.5" x2="606" y2="101.5" stroke-width="1.1"/>
<line x1="598" y1="105" x2="610" y2="105" stroke-width="1.1"/>
<line x1="604" y1="109" x2="614" y2="109" stroke-width="0.99"/>
<line x1="606" y1="113.5" x2="615" y2="113.5" stroke-width="0.99"/>
<line x1="592" y1="271" x2="607" y2="275" stroke-width="1.1"/>
<line x1="592" y1="273.5" x2="607" y2="277.5" stroke-width="0.99"/>
<line x1="589" y1="398" x2="610" y2="410" stroke-width="1.1"/>
<line x1="589" y1="401" x2="610" y2="413" stroke-width="0.99"/>
<line x1="622" y1="314.5" x2="620.2" y2="590" stroke-width="1.54"/>
<line x1="625.4" y1="314.5" x2="624" y2="590" stroke-width="1.43"/>
<line x1="629.8" y1="314.5" x2="628.8" y2="480" stroke-width="1.1"/>
<line x1="632.6" y1="314.5" x2="632.4" y2="420" stroke-width="1.1"/>
<line x1="635.8" y1="314.5" x2="633.9" y2="546" stroke-width="2.2"/>
<line x1="564.6" y1="336" x2="563.4" y2="516" stroke-width="1.43"/>
<line x1="568.6" y1="322" x2="568.2" y2="402" stroke-width="0.99"/>
<line x1="570.6" y1="330" x2="570.3" y2="385" stroke-width="0.99"/>
<line x1="572.6" y1="318" x2="572.2" y2="440" stroke-width="0.99"/>
<line x1="566.6" y1="350" x2="566.3" y2="410" stroke-width="0.88"/>
<path d="M619.3 51 L678.6 48.8 L675.6 316.6 L617.2 314.2 Z" stroke-width="1.76" fill="none"/>
<line x1="617.6" y1="53" x2="615.8" y2="314" stroke-width="1.1"/>
<line x1="677.6" y1="50" x2="674.9" y2="316" stroke-width="1.32"/>
<path d="M678.6 48.8 L695.8 52.8 L692 313.2 L675.6 316.6" stroke-width="1.65" fill="none"/>
<line x1="680.9" y1="50.5" x2="679.6" y2="262" stroke-width="1.21"/>
<line x1="684.6" y1="51" x2="684.2" y2="125" stroke-width="0.99"/>
<line x1="688.4" y1="52" x2="687.9" y2="143" stroke-width="0.99"/>
<line x1="691.8" y1="52.5" x2="691.4" y2="119" stroke-width="0.99"/>
<line x1="685.5" y1="285" x2="685.3" y2="313" stroke-width="0.99"/>
<line x1="688.4" y1="270" x2="688" y2="312.5" stroke-width="0.99"/>
<line x1="690.3" y1="280" x2="690" y2="312" stroke-width="0.99"/>
<line x1="619.3" y1="51" x2="609.8" y2="50.6" stroke-width="1.43"/>
<line x1="620.5" y1="62.8" x2="638" y2="58.6" stroke-width="1.1"/>
<line x1="625" y1="60.4" x2="672" y2="54.6" stroke-width="1.1"/>
<line x1="632" y1="58.8" x2="660" y2="55.8" stroke-width="1.1"/>
<line x1="645" y1="54.4" x2="676" y2="52.2" stroke-width="1.1"/>
<line x1="624.7" y1="99.2" x2="646" y2="94.5" stroke-width="1.1"/>
<line x1="628.7" y1="97.3" x2="673.3" y2="91" stroke-width="1.1"/>
<line x1="648.7" y1="92.1" x2="674.5" y2="89.8" stroke-width="1.1"/>
<line x1="625.2" y1="153.6" x2="637" y2="152" stroke-width="1.1"/>
<line x1="628.7" y1="150.8" x2="672" y2="145" stroke-width="1.1"/>
<line x1="640.5" y1="148.5" x2="660.4" y2="146.1" stroke-width="1.1"/>
<line x1="619.3" y1="253.3" x2="627.5" y2="251.4" stroke-width="1.1"/>
<line x1="620.5" y1="249.7" x2="634.6" y2="247.4" stroke-width="1.1"/>
<line x1="625.2" y1="245" x2="660.4" y2="242" stroke-width="1.1"/>
<line x1="648.7" y1="239.2" x2="672" y2="238.5" stroke-width="1.1"/>
<line x1="619.3" y1="304.9" x2="628.7" y2="302.5" stroke-width="1.1"/>
<line x1="621.7" y1="300.2" x2="658" y2="297.4" stroke-width="1.1"/>
<line x1="632.2" y1="295.5" x2="672" y2="292.7" stroke-width="1.1"/>
<line x1="658" y1="291.5" x2="673.3" y2="290.8" stroke-width="1.1"/>
<line x1="625" y1="196.5" x2="636" y2="195.3" stroke-width="1.1"/>
<line x1="628" y1="194.3" x2="668" y2="190" stroke-width="1.1"/>
<line x1="645" y1="191" x2="668" y2="188.4" stroke-width="1.1"/>
<text x="630.5" y="72.6" font-size="5.6" font-weight="bold" letter-spacing="0.4">ON OFF</text>
<rect x="634" y="74.6" width="18" height="4.6" rx="2" stroke-width="1.1"/>
<rect x="634.6" y="75.2" width="6.5" height="3.6" rx="1.6" fill="#000" stroke="none"/>
<line x1="645" y1="75" x2="645" y2="79" stroke-width="0.88"/>
<ellipse cx="635.3" cy="110.2" rx="3" ry="3.2" stroke-width="1.65" fill="none"/>
<ellipse cx="636" cy="110.4" rx="1.3" ry="1.5" stroke-width="1.1" fill="#000"/>
<ellipse cx="655.2" cy="109.6" rx="3" ry="3.2" stroke-width="1.65" fill="none"/>
<ellipse cx="655.9" cy="109.8" rx="1.3" ry="1.5" stroke-width="1.1" fill="#000"/>
<ellipse cx="628.6" cy="137.6" rx="3.3" ry="3.8" stroke-width="1.43" fill="none"/>
<ellipse cx="631.2" cy="137.6" rx="3" ry="3.7" stroke-width="1.32" fill="none"/>
<ellipse cx="646" cy="137" rx="3.3" ry="3.8" stroke-width="1.43" fill="none"/>
<ellipse cx="648.6" cy="137" rx="3" ry="3.7" stroke-width="1.32" fill="none"/>
<ellipse cx="661.7" cy="136.6" rx="3.3" ry="3.8" stroke-width="1.43" fill="none"/>
<ellipse cx="664.3" cy="136.6" rx="3" ry="3.7" stroke-width="1.32" fill="none"/>
<path d="M620.9 173.7 A11.4 10.83 0 0 1 643.5 173.7 L639.4 174.1 A7.2 6.84 0 0 0 625 174.1 Z" stroke-width="1.54" fill="none"/>
<line x1="623.7" y1="167.6" x2="626.8" y2="170.2" stroke-width="1.1"/>
<line x1="628.7" y1="164.5" x2="630" y2="168.3" stroke-width="1.1"/>
<line x1="635.7" y1="164.5" x2="634.4" y2="168.3" stroke-width="1.1"/>
<line x1="640.7" y1="167.6" x2="637.6" y2="170.2" stroke-width="1.1"/>
<ellipse cx="632.2" cy="180.2" rx="5.6" ry="5.8" stroke-width="1.76" fill="#fff"/>
<line x1="633.2" y1="174.8" x2="633.2" y2="185.8" stroke-width="1.1"/>
<line x1="633.6" y1="177.8" x2="637.2" y2="177.8" stroke-width="0.99"/>
<line x1="633.6" y1="179.7" x2="637.2" y2="179.7" stroke-width="0.99"/>
<line x1="633.6" y1="181.6" x2="637.2" y2="181.6" stroke-width="0.99"/>
<line x1="633.6" y1="183.5" x2="637.2" y2="183.5" stroke-width="0.99"/>
<line x1="633" y1="175.2" x2="634" y2="168.2" stroke-width="1.65"/>
<path d="M646.3 172.1 A11.4 10.83 0 0 1 668.9 172.1 L664.8 172.5 A7.2 6.84 0 0 0 650.4 172.5 Z" stroke-width="1.54" fill="none"/>
<line x1="649.1" y1="166" x2="652.2" y2="168.6" stroke-width="1.1"/>
<line x1="654.1" y1="162.9" x2="655.4" y2="166.7" stroke-width="1.1"/>
<line x1="661.1" y1="162.9" x2="659.8" y2="166.7" stroke-width="1.1"/>
<line x1="666.1" y1="166" x2="663" y2="168.6" stroke-width="1.1"/>
<ellipse cx="657.6" cy="178.6" rx="5.6" ry="5.8" stroke-width="1.76" fill="#fff"/>
<line x1="658.6" y1="173.2" x2="658.6" y2="184.2" stroke-width="1.1"/>
<line x1="659" y1="176.2" x2="662.6" y2="176.2" stroke-width="0.99"/>
<line x1="659" y1="178.1" x2="662.6" y2="178.1" stroke-width="0.99"/>
<line x1="659" y1="180" x2="662.6" y2="180" stroke-width="0.99"/>
<line x1="659" y1="181.9" x2="662.6" y2="181.9" stroke-width="0.99"/>
<line x1="658.4" y1="173.6" x2="659.4" y2="166.6" stroke-width="1.65"/>
<path d="M620.9 211.2 A11.4 10.83 0 0 1 643.5 211.2 L639.4 211.6 A7.2 6.84 0 0 0 625 211.6 Z" stroke-width="1.54" fill="none"/>
<line x1="623.7" y1="205.1" x2="626.8" y2="207.7" stroke-width="1.1"/>
<line x1="628.7" y1="202" x2="630" y2="205.8" stroke-width="1.1"/>
<line x1="635.7" y1="202" x2="634.4" y2="205.8" stroke-width="1.1"/>
<line x1="640.7" y1="205.1" x2="637.6" y2="207.7" stroke-width="1.1"/>
<ellipse cx="632.2" cy="217.7" rx="5.6" ry="5.8" stroke-width="1.76" fill="#fff"/>
<line x1="633.2" y1="212.3" x2="633.2" y2="223.3" stroke-width="1.1"/>
<line x1="633.6" y1="215.3" x2="637.2" y2="215.3" stroke-width="0.99"/>
<line x1="633.6" y1="217.2" x2="637.2" y2="217.2" stroke-width="0.99"/>
<line x1="633.6" y1="219.1" x2="637.2" y2="219.1" stroke-width="0.99"/>
<line x1="633.6" y1="221" x2="637.2" y2="221" stroke-width="0.99"/>
<line x1="633" y1="212.7" x2="634" y2="205.7" stroke-width="1.65"/>
<path d="M646.3 210.2 A11.4 10.83 0 0 1 668.9 210.2 L664.8 210.6 A7.2 6.84 0 0 0 650.4 210.6 Z" stroke-width="1.54" fill="none"/>
<line x1="649.1" y1="204.1" x2="652.2" y2="206.7" stroke-width="1.1"/>
<line x1="654.1" y1="201" x2="655.4" y2="204.8" stroke-width="1.1"/>
<line x1="661.1" y1="201" x2="659.8" y2="204.8" stroke-width="1.1"/>
<line x1="666.1" y1="204.1" x2="663" y2="206.7" stroke-width="1.1"/>
<ellipse cx="657.6" cy="216.7" rx="5.6" ry="5.8" stroke-width="1.76" fill="#fff"/>
<line x1="658.6" y1="211.3" x2="658.6" y2="222.3" stroke-width="1.1"/>
<line x1="659" y1="214.3" x2="662.6" y2="214.3" stroke-width="0.99"/>
<line x1="659" y1="216.2" x2="662.6" y2="216.2" stroke-width="0.99"/>
<line x1="659" y1="218.1" x2="662.6" y2="218.1" stroke-width="0.99"/>
<line x1="659" y1="220" x2="662.6" y2="220" stroke-width="0.99"/>
<line x1="658.4" y1="211.7" x2="659.4" y2="204.7" stroke-width="1.65"/>
<path d="M309.2 596.6 L611.7 652.1" stroke-width="1.98" fill="none"/>
<path d="M309.2 618.7 L611.7 679.7" stroke-width="1.76" fill="none"/>
<line x1="309.2" y1="596.6" x2="309.2" y2="618.7" stroke-width="1.76"/>
<line x1="611.7" y1="652.1" x2="611.7" y2="679.9" stroke-width="2.2"/>
<path d="M611.7 652.1 L686.5 614.4 L686.5 633.5 L611.7 679.9" stroke-width="1.76" fill="none"/>
<line x1="429.9" y1="569.4" x2="492.3" y2="582.4" stroke-width="1.54"/>
<line x1="506" y1="585.5" x2="514" y2="587" stroke-width="1.32"/>
<line x1="311" y1="598.4" x2="311" y2="617.9" stroke-width="1.21"/>
<line x1="312.6" y1="599.2" x2="312.6" y2="616.2" stroke-width="1.21"/>
<line x1="314.2" y1="600" x2="314.2" y2="617.5" stroke-width="1.21"/>
<line x1="316.4" y1="603.9" x2="316.4" y2="618.9" stroke-width="1.21"/>
<line x1="318.7" y1="608.3" x2="318.7" y2="619.8" stroke-width="1.21"/>
<line x1="321.8" y1="614.9" x2="321.8" y2="620.4" stroke-width="1.21"/>
<line x1="326.5" y1="618.8" x2="326.5" y2="621.8" stroke-width="1.21"/>
<line x1="330.3" y1="620.5" x2="330.3" y2="623.5" stroke-width="1.21"/>
<line x1="383" y1="612.1" x2="383" y2="620.1" stroke-width="1.1"/>
<line x1="385.5" y1="612.6" x2="385.5" y2="624.6" stroke-width="1.1"/>
<line x1="388" y1="613.1" x2="388" y2="628.1" stroke-width="1.1"/>
<line x1="461" y1="625.5" x2="461" y2="633.5" stroke-width="1.1"/>
<line x1="463.5" y1="625.9" x2="463.5" y2="638.9" stroke-width="1.1"/>
<line x1="466" y1="626.4" x2="466" y2="637.4" stroke-width="1.1"/>
<line x1="468.5" y1="626.8" x2="468.5" y2="642.8" stroke-width="1.1"/>
<line x1="471" y1="628.3" x2="471" y2="640.3" stroke-width="1.1"/>
<line x1="474" y1="628.8" x2="474" y2="645.8" stroke-width="1.1"/>
<line x1="477" y1="630.4" x2="477" y2="645.4" stroke-width="1.1"/>
<line x1="480" y1="633.9" x2="480" y2="647.9" stroke-width="1.1"/>
<line x1="533" y1="638.7" x2="533" y2="645.7" stroke-width="1.1"/>
<line x1="536" y1="639.2" x2="536" y2="651.2" stroke-width="1.1"/>
<line x1="539" y1="639.8" x2="539" y2="654.8" stroke-width="1.1"/>
<line x1="575" y1="647.4" x2="575" y2="659.4" stroke-width="1.21"/>
<line x1="578" y1="646.9" x2="578" y2="665.9" stroke-width="1.21"/>
<line x1="581" y1="647.5" x2="581" y2="658.5" stroke-width="1.21"/>
<line x1="584" y1="648" x2="584" y2="669" stroke-width="1.21"/>
<line x1="587" y1="648.6" x2="587" y2="661.6" stroke-width="1.21"/>
<line x1="590" y1="649.1" x2="590" y2="672.1" stroke-width="1.21"/>
<line x1="593" y1="649.7" x2="593" y2="664.7" stroke-width="1.21"/>
<line x1="596" y1="650.2" x2="596" y2="674.2" stroke-width="1.21"/>
<line x1="599" y1="650.8" x2="599" y2="667.8" stroke-width="1.21"/>
<line x1="602" y1="651.3" x2="602" y2="676.3" stroke-width="1.21"/>
<line x1="604.5" y1="651.8" x2="604.5" y2="676.8" stroke-width="1.21"/>
<line x1="607" y1="652.2" x2="607" y2="678.2" stroke-width="1.21"/>
<line x1="609.5" y1="652.7" x2="609.5" y2="678.7" stroke-width="1.21"/>
<line x1="616" y1="653.4" x2="616" y2="662.4" stroke-width="1.1"/>
<line x1="619" y1="652.2" x2="619" y2="666.2" stroke-width="1.1"/>
<line x1="622" y1="649.9" x2="622" y2="657.9" stroke-width="1.1"/>
<line x1="655" y1="637.6" x2="655" y2="648.6" stroke-width="1.1"/>
<line x1="658" y1="635.4" x2="658" y2="651.4" stroke-width="1.1"/>
<line x1="661" y1="634.2" x2="661" y2="644.2" stroke-width="1.1"/>
<line x1="664" y1="633" x2="664" y2="651" stroke-width="1.1"/>
<line x1="667" y1="630.8" x2="667" y2="640.8" stroke-width="1.1"/>
<line x1="676" y1="627.1" x2="676" y2="639.1" stroke-width="1.1"/>
<line x1="679" y1="625.9" x2="679" y2="641.9" stroke-width="1.1"/>
<line x1="682" y1="624.7" x2="682" y2="633.7" stroke-width="1.1"/>
<line x1="408.8" y1="604.5" x2="450.2" y2="577.2" stroke-width="0.99"/>
<line x1="415.8" y1="602.9" x2="454.3" y2="577.5" stroke-width="0.99"/>
<line x1="417.7" y1="604.6" x2="454.1" y2="580.6" stroke-width="0.99"/>
<line x1="415.3" y1="609.3" x2="455.6" y2="582.6" stroke-width="0.99"/>
<line x1="418.2" y1="610.3" x2="459.7" y2="583" stroke-width="0.99"/>
<line x1="421.8" y1="611" x2="466.9" y2="581.2" stroke-width="0.99"/>
<line x1="429.2" y1="609.1" x2="461.5" y2="587.8" stroke-width="0.99"/>
<line x1="466.9" y1="611.6" x2="492.4" y2="600.7" stroke-width="0.99"/>
<line x1="473.8" y1="611" x2="490.8" y2="603.7" stroke-width="0.99"/>
<line x1="476.8" y1="612.1" x2="498" y2="603" stroke-width="0.99"/>
<line x1="483" y1="611.8" x2="503.9" y2="602.8" stroke-width="0.99"/>
<line x1="485.6" y1="613" x2="505.6" y2="604.5" stroke-width="0.99"/>
<line x1="484" y1="616.1" x2="510.2" y2="604.9" stroke-width="0.99"/>
<line x1="501.5" y1="616.4" x2="515.9" y2="610.6" stroke-width="0.99"/>
<line x1="504.4" y1="617.4" x2="520.6" y2="611" stroke-width="0.99"/>
<line x1="510.2" y1="617.3" x2="525.1" y2="611.3" stroke-width="0.99"/>
<line x1="513.2" y1="618.3" x2="530.2" y2="611.5" stroke-width="0.99"/>
<path d="M273.4 604.6 L270.3 607.6 L270.3 631.7 L275 632.5 L278 631" stroke-width="1.76" fill="none"/>
<line x1="274.2" y1="605.5" x2="274.2" y2="632" stroke-width="1.76"/>
<line x1="278" y1="603.5" x2="278" y2="631" stroke-width="1.43"/>
<line x1="273.4" y1="604.6" x2="428.4" y2="549.5" stroke-width="1.54"/>
<line x1="270.3" y1="607.6" x2="430" y2="552.9" stroke-width="1.65"/>
<line x1="278" y1="631" x2="308.6" y2="619.8" stroke-width="1.76"/>
<path d="M413 557 L413 569 L429.9 569.4 L429.9 552.5" stroke-width="1.54" fill="none"/>
<line x1="415.5" y1="558.5" x2="415.5" y2="567" stroke-width="1.1"/>
<line x1="418" y1="557.5" x2="418" y2="564" stroke-width="1.1"/>
<line x1="420.5" y1="556.5" x2="420.5" y2="568" stroke-width="1.1"/>
<line x1="423" y1="555.5" x2="423" y2="566" stroke-width="1.1"/>
<line x1="425.5" y1="554.5" x2="425.5" y2="568.5" stroke-width="1.1"/>
<line x1="427.8" y1="554" x2="427.8" y2="568" stroke-width="1.1"/>
<line x1="280.5" y1="604.5" x2="280.5" y2="626" stroke-width="0.99"/>
<line x1="283" y1="603.5" x2="283" y2="617" stroke-width="0.99"/>
<line x1="286" y1="602.5" x2="286" y2="622" stroke-width="0.99"/>
<line x1="289" y1="601.5" x2="289" y2="612" stroke-width="0.99"/>
<line x1="293" y1="600" x2="293" y2="615" stroke-width="0.99"/>
<line x1="297" y1="598.5" x2="297" y2="608" stroke-width="0.99"/>
<line x1="301" y1="597" x2="301" y2="604" stroke-width="0.99"/>
<line x1="306" y1="576.5" x2="306" y2="591.5" stroke-width="1.1"/>
<line x1="308.5" y1="576" x2="308.5" y2="590.5" stroke-width="1.1"/>
<line x1="311" y1="575.7" x2="311" y2="589.5" stroke-width="1.1"/>
<line x1="313.5" y1="575.4" x2="313.5" y2="588.7" stroke-width="1.1"/>
<line x1="316" y1="575" x2="316" y2="587.8" stroke-width="1.1"/>
<line x1="318.5" y1="574.6" x2="318.5" y2="587" stroke-width="1.1"/>
<line x1="321" y1="574.2" x2="321" y2="586" stroke-width="1.1"/>
<line x1="323.5" y1="573.7" x2="323.5" y2="585" stroke-width="1.1"/>
<line x1="326" y1="573.2" x2="326" y2="584.2" stroke-width="1.1"/>
<line x1="329" y1="572.6" x2="329" y2="583" stroke-width="1.1"/>
<line x1="287.4" y1="579.5" x2="287.4" y2="598.5" stroke-width="1.32"/>
<line x1="304.5" y1="576.6" x2="304.5" y2="592" stroke-width="1.32"/>
<line x1="290" y1="585" x2="300" y2="581.5" stroke-width="0.88"/>
<line x1="291.2" y1="587.2" x2="299.4" y2="583.5" stroke-width="0.88"/>
<line x1="292.4" y1="589.4" x2="298.8" y2="585.5" stroke-width="0.88"/>
<line x1="293.6" y1="591.6" x2="298.2" y2="587.5" stroke-width="0.88"/>
<line x1="294.8" y1="593.8" x2="297.6" y2="589.5" stroke-width="0.88"/>
<line x1="395.4" y1="546.6" x2="414" y2="549.6" stroke-width="1.32"/>
<line x1="399" y1="551.5" x2="412" y2="551" stroke-width="0.88"/>
<line x1="402" y1="554" x2="411" y2="553.5" stroke-width="0.88"/>
<line x1="340.8" y1="595.6" x2="392.2" y2="567.5" stroke-width="0.88"/>
<line x1="352.4" y1="591.9" x2="392.1" y2="570.2" stroke-width="0.88"/>
<line x1="350.3" y1="595.6" x2="392.9" y2="572.4" stroke-width="0.88"/>
<line x1="355.2" y1="595.6" x2="399.9" y2="571.2" stroke-width="0.88"/>
<line x1="362.9" y1="594" x2="397.4" y2="575.2" stroke-width="0.88"/>
<line x1="358.4" y1="599.2" x2="402.1" y2="575.3" stroke-width="0.88"/>
<path d="M492.5 541 L492.5 607.7 L507.5 604.2" stroke-width="1.65" fill="none"/>
<line x1="492.5" y1="541" x2="509.6" y2="542" stroke-width="1.43"/>
<line x1="494.5" y1="548" x2="494.5" y2="600" stroke-width="0.99"/>
<line x1="496.3" y1="545" x2="496.3" y2="592" stroke-width="0.99"/>
<line x1="498.2" y1="552" x2="498.2" y2="604" stroke-width="0.99"/>
<line x1="500" y1="546" x2="500" y2="585" stroke-width="0.99"/>
<line x1="502" y1="560" x2="502" y2="603" stroke-width="0.99"/>
<line x1="504" y1="545" x2="504" y2="578" stroke-width="0.99"/>
<line x1="506" y1="550" x2="506" y2="602" stroke-width="0.99"/>
<line x1="508.8" y1="545" x2="508.8" y2="603" stroke-width="1.21"/>
<path d="M514.8 552.2 L525.2 547.5 L563.5 555.3 L561.7 560.5 Z" stroke-width="1.54" fill="none"/>
<path d="M514.8 552.2 L514.8 567.5 L546 574 L561.7 573 L561.7 560.5" stroke-width="1.65" fill="none"/>
<ellipse cx="538.3" cy="550.2" rx="5.2" ry="1.9" stroke-width="1.43" fill="none"/>
<line x1="533.1" y1="550.2" x2="533.1" y2="553" stroke-width="1.32"/>
<line x1="543.5" y1="550.2" x2="543.5" y2="554" stroke-width="1.32"/>
<path d="M524 556 l1.5 5 l1 -2 l1.5 6" stroke-width="0.99" fill="none"/>
<path d="M544 560 l1.5 5 l1 -2 l1.5 6" stroke-width="0.99" fill="none"/>
<path d="M513 572 L513 576 L546 582.5 L546 578.3 Z" stroke-width="1.76" fill="none"/>
<line x1="513" y1="572" x2="546" y2="578.3" stroke-width="2.42"/>
<path d="M546 578.3 L560 577 L560 581 L546 582.5" stroke-width="1.43" fill="none"/>
<path d="M546 579 l4 0 l0 6 l-2.5 -3 Z" stroke-width="0.88" fill="#000"/>
<line x1="519.6" y1="578" x2="520.4" y2="592" stroke-width="1.54"/>
<line x1="560" y1="581" x2="559.4" y2="592" stroke-width="1.54"/>
<path d="M520.4 592 Q522 601 540 602 Q557 601 559.4 592" stroke-width="1.65" fill="none"/>
<path d="M520.8 586 Q526 592.5 540 593 Q554 592.5 559.6 586.5" stroke-width="1.21" fill="none"/>
<path d="M523 595 Q530 598.5 540 598.8 Q551 598.5 557.5 595" stroke-width="1.1" fill="none"/>
<line x1="526" y1="581" x2="526" y2="590" stroke-width="1.1"/>
<line x1="541" y1="583" x2="541" y2="593" stroke-width="1.1"/>
<line x1="554" y1="582" x2="554" y2="591" stroke-width="1.1"/>
<path d="M563.8 517.2 L587.5 520.6 L589.6 522.8 L589.6 530.8 L566 528.2 L563.8 526 Z" stroke-width="1.76" fill="none"/>
<line x1="564.5" y1="516.5" x2="566.8" y2="518.6" stroke-width="1.21"/>
<line x1="566.8" y1="518.6" x2="589.5" y2="522.5" stroke-width="1.21"/>
<line x1="566.8" y1="518.6" x2="566.5" y2="526.5" stroke-width="1.1"/>
<ellipse cx="570.5" cy="522.2" rx="1.1" ry="1.1" stroke-width="0.99" fill="none"/>
<ellipse cx="574.5" cy="523" rx="0.9" ry="0.9" stroke-width="0.99" fill="#000"/>
<ellipse cx="586" cy="525" rx="1.3" ry="1.3" stroke-width="0.99" fill="none"/>
<path d="M566 505 L570.5 507 L569.5 516.5 L566.5 515 Z" stroke-width="0.88" fill="#000"/>
<path d="M586 530.6 L594 528.3 Q596 532.5 594.2 536.6 L586.5 538.6" stroke-width="1.32" fill="none"/>
<line x1="564.7" y1="526.5" x2="564.7" y2="622" stroke-width="1.65"/>
<line x1="573.6" y1="527.5" x2="573.6" y2="617" stroke-width="1.43"/>
<line x1="575.6" y1="529" x2="575.6" y2="617" stroke-width="2.42"/>
<line x1="578.2" y1="530.5" x2="578.2" y2="617" stroke-width="1.1"/>
<line x1="580.4" y1="530.5" x2="580.4" y2="617" stroke-width="1.43"/>
<line x1="582.6" y1="530.5" x2="582.6" y2="617" stroke-width="1.1"/>
<line x1="584.6" y1="529" x2="584.6" y2="628" stroke-width="1.54"/>
<path d="M575 529 L585 529.6 L583.5 532.2 L576.5 531.8 Z" stroke-width="1.1" fill="none"/>
<path d="M564.7 615.2 L572.6 615.2 L572.6 621.5 L584.6 622.8" stroke-width="1.54" fill="none"/>
<path d="M564.7 622 L564.7 633 L587.5 634" stroke-width="1.65" fill="none"/>
<line x1="587.5" y1="624" x2="587.5" y2="634" stroke-width="1.32"/>
<ellipse cx="570.6" cy="628.2" rx="1.7" ry="1.7" stroke-width="1.1" fill="none"/>
<ellipse cx="578.3" cy="629" rx="1.7" ry="1.7" stroke-width="1.1" fill="none"/>
<line x1="566.5" y1="560" x2="571.5" y2="560.8" stroke-width="0.77"/>
<line x1="566.5" y1="575" x2="571.5" y2="575.8" stroke-width="0.77"/>
<line x1="566.5" y1="590" x2="571.5" y2="590.8" stroke-width="0.77"/>
<line x1="566.5" y1="600" x2="571.5" y2="600.8" stroke-width="0.77"/>
<line x1="566.5" y1="606" x2="571.5" y2="606.8" stroke-width="0.77"/>
<path d="M522 628.6 L547 616.2 L565 613.8" stroke-width="1.65" fill="none"/>
<line x1="505.7" y1="607.5" x2="547" y2="616.2" stroke-width="1.43"/>
<path d="M522 629 L611.2 645.6" stroke-width="1.87" fill="none"/>
<path d="M522 629 L522.6 631.5 L610.5 648.5" stroke-width="1.32" fill="none"/>
<line x1="533.9" y1="626.8" x2="552.8" y2="619.7" stroke-width="0.88"/>
<line x1="538.1" y1="627.5" x2="558.5" y2="619.9" stroke-width="0.88"/>
<line x1="542.5" y1="628.2" x2="562.6" y2="620.7" stroke-width="0.88"/>
<line x1="544" y1="629.9" x2="563.8" y2="622.5" stroke-width="0.88"/>
<line x1="588" y1="636" x2="612" y2="640.5" stroke-width="0.99"/>
<line x1="590" y1="632.5" x2="611" y2="636.5" stroke-width="0.99"/>
<path d="M609.2 608.6 L609.2 609.3 L610.9 610.3 L610.8 611.1 L610.6 611.9 L610.4 612.7 L608.5 612.8 L608.2 613.5 L607.9 614.2 L607.6 614.8 L608.7 616.5 L608.3 617.2 L607.8 617.8 L607.2 618.4 L605.5 617.5 L605 618 L604.4 618.4 L603.9 618.8 L604.1 620.9 L603.4 621.3 L602.7 621.6 L602 621.9 L600.8 620.2 L600.2 620.4 L599.5 620.5 L598.9 620.5 L598.2 622.5 L597.4 622.5 L596.7 622.4 L595.9 622.3 L595.6 620.2 L594.9 620 L594.3 619.8 L593.7 619.5 L592.3 620.9 L591.6 620.5 L590.9 620 L590.3 619.5 L590.9 617.5 L590.4 617 L590 616.5 L589.5 616 L587.7 616.5 L587.3 615.8 L586.9 615.1 L586.5 614.3 L587.9 612.8 L587.7 612.2 L587.5 611.5 L587.4 610.8 L585.5 610.3 L585.4 609.4 L585.4 608.6 L585.4 607.8 L587.3 607.2 L587.4 606.4 L587.5 605.7 L587.7 605 L586.2 603.7 L586.5 602.9 L586.9 602.1 L587.3 601.4 L589.2 601.8 L589.5 601.2 L590 600.7 L590.4 600.2 L589.7 598.2 L590.3 597.7 L590.9 597.2 L591.6 596.7 L593.1 598 L593.7 597.7 L594.3 597.4 L594.9 597.2 L595.1 595.1 L595.9 594.9 L596.7 594.8 L597.4 594.7 L598.2 596.6 L598.9 596.7 L599.5 596.7 L600.2 596.8 L601.3 595.1 L602 595.3 L602.7 595.6 L603.4 595.9 L603.3 598 L603.9 598.4 L604.4 598.8 L605 599.2 L606.7 598.2 L607.2 598.8 L607.8 599.4 L608.3 600 L607.2 601.8 L607.6 602.4 L607.9 603 L608.2 603.7 L610.2 603.7 L610.4 604.5 L610.6 605.3 L610.8 606.1 L609.1 607.2 L609.2 607.9 L609.2 608.6" stroke-width="1.21" fill="none" stroke-dasharray="5 2.2"/>
<ellipse cx="598.6" cy="608.4" rx="6.6" ry="11" stroke-width="2.86" fill="none" transform="rotate(8 598.6 608.4)"/>
<ellipse cx="593.8" cy="610.2" rx="4" ry="4.2" stroke-width="1.54" fill="#fff"/>
<ellipse cx="596.6" cy="609.5" rx="3" ry="3.6" stroke-width="1.32" fill="#fff"/>
<ellipse cx="592.6" cy="610.4" rx="2.6" ry="3" stroke-width="1.1" fill="none"/>
<line x1="622.7" y1="588.5" x2="611.4" y2="645.3" stroke-width="2.86"/>
<path d="M622.7 588.5 L633 585.8 L651.8 627.4" stroke-width="1.65" fill="none"/>
<line x1="625" y1="589.5" x2="614.2" y2="643" stroke-width="1.1"/>
<path d="M614.5 644 L651.8 627.4" stroke-width="1.32" fill="none"/>
<line x1="620" y1="612" x2="640" y2="605.5" stroke-width="0.88"/>
<line x1="619" y1="617" x2="646" y2="608" stroke-width="0.88"/>
<line x1="618" y1="622" x2="634" y2="616.5" stroke-width="0.88"/>
<line x1="617" y1="627" x2="648" y2="616.5" stroke-width="0.88"/>
<line x1="616" y1="633" x2="650" y2="621" stroke-width="0.88"/>
<line x1="615.5" y1="638" x2="640" y2="629.5" stroke-width="0.88"/>
<line x1="624" y1="597" x2="634" y2="593.5" stroke-width="0.88"/>
<line x1="623" y1="601.5" x2="637" y2="596.5" stroke-width="0.88"/>
<line x1="586.7" y1="544.5" x2="606.5" y2="551" stroke-width="0.99"/>
<line x1="587.7" y1="548.3" x2="612.2" y2="557.7" stroke-width="0.99"/>
<line x1="590.5" y1="553" x2="612.2" y2="560.5" stroke-width="0.99"/>
<line x1="595.2" y1="557.7" x2="612.2" y2="564.3" stroke-width="0.99"/>
<path d="M633.8 545.4 L665 550.2 L668.8 552.6 L638.6 563 Z" stroke-width="1.54" fill="none"/>
<line x1="668.8" y1="552.6" x2="668.8" y2="616" stroke-width="1.76"/>
<line x1="638.6" y1="563" x2="638.6" y2="588" stroke-width="1.32"/>
<path d="M651.8 627.4 L668.8 616" stroke-width="1.43" fill="none"/>
<line x1="641" y1="562" x2="641" y2="588" stroke-width="1.1"/>
<line x1="643.5" y1="561.5" x2="643.5" y2="592" stroke-width="1.1"/>
<line x1="646" y1="560.5" x2="646" y2="584" stroke-width="1.1"/>
<line x1="648.5" y1="560" x2="648.5" y2="600" stroke-width="1.1"/>
<line x1="651" y1="559" x2="651" y2="590" stroke-width="1.1"/>
<line x1="653.5" y1="558" x2="653.5" y2="606" stroke-width="1.1"/>
<line x1="656" y1="557" x2="656" y2="596" stroke-width="1.1"/>
<line x1="658.5" y1="556.5" x2="658.5" y2="586" stroke-width="1.1"/>
<line x1="661" y1="555.5" x2="661" y2="580" stroke-width="1.1"/>
<line x1="664" y1="554.5" x2="664" y2="576" stroke-width="1.1"/>
<line x1="666.5" y1="553.8" x2="666.5" y2="572" stroke-width="1.1"/>
<line x1="656" y1="612" x2="656" y2="622" stroke-width="0.99"/>
<line x1="659" y1="606" x2="659" y2="620" stroke-width="0.99"/>
<line x1="662" y1="600" x2="662" y2="618" stroke-width="0.99"/>
<line x1="665" y1="596" x2="665" y2="610" stroke-width="0.99"/>
<line x1="640" y1="560.5" x2="662" y2="551.6" stroke-width="0.88"/>
<line x1="643" y1="561.5" x2="666" y2="552.6" stroke-width="0.88"/>
<line x1="637" y1="558.5" x2="655" y2="550.8" stroke-width="0.88"/>
<line x1="636" y1="555" x2="647" y2="549.6" stroke-width="0.88"/>
<text x="158.9 169.6" y="52.2" font-size="16.5">88</text>
<clipPath id="c1"><path d="M628.4 23.2 H668.2 V38.8 H628.4 Z M633 38.7 H635.7 V44.5 H633 Z M641 38.7 H650.5 V44.5 H641 Z M650 38.7 H661.6 V44.5 H650 Z" stroke="none"/></clipPath><g clip-path="url(#c1)"><text x="629.9 639.3 650.5" y="40.5" font-size="17.3">122</text></g>
<clipPath id="c2"><path d="M505 70 H537 V86 H505 Z M509.8 85.9 H512.4 V91.7 H509.8 Z M516.1 85.9 H518.6 V91.7 H516.1 Z M522.7 85.9 H532 V91.7 H522.7 Z" stroke="none"/></clipPath><g clip-path="url(#c2)"><text transform="translate(508.5 87.7) scale(0.959 1)" x="-1.8 4.8 13.1" y="0" font-size="17.7">114</text></g>
<text x="476.5 487" y="210" font-size="18.2">92</text>
<clipPath id="c3"><path d="M715 240.2 H748 V258.1 H715 Z M719.5 258 H722 V263.8 H719.5 Z M726.1 258 H728.5 V263.8 H726.1 Z M733.2 258 H743 V263.8 H733.2 Z" stroke="none"/></clipPath><g clip-path="url(#c3)"><text transform="translate(718.5 259.8) scale(0.905 1)" x="-2 5.3 14.5" y="0" font-size="19.6">110</text></g>
<text x="482.9 493.4" y="298.6" font-size="17.6">97</text>
<text x="460.8 470.9" y="314.8" font-size="16.5">98</text>
<clipPath id="c4"><path d="M481.5 314.7 H516.8 V330 H481.5 Z M486.4 329.9 H489.1 V335.7 H486.4 Z M493 329.9 H502.3 V335.7 H493 Z M500.3 329.9 H511.8 V335.7 H500.3 Z" stroke="none"/></clipPath><g clip-path="url(#c4)"><text x="483.3 491.3 500.8" y="331.7" font-size="17.0">104</text></g>
<text x="655.8 668.5" y="353.6" font-size="20.4">96</text>
<clipPath id="c5"><path d="M486 335.7 H519.4 V350.1 H486 Z M491 350 H493.6 V355.8 H491 Z M497 350 H505.6 V355.8 H497 Z M503.6 350 H514.4 V355.8 H503.6 Z" stroke="none"/></clipPath><g clip-path="url(#c5)"><text transform="translate(489.5 351.8) scale(0.981 1)" x="-1.6 6 14.9" y="0" font-size="16.1">100</text></g>
<text x="414.5 425.5 436.5" y="344.7" font-size="18.2">90a</text>
<text x="646.2 657.4" y="408.9" font-size="19.0">94</text>
<text x="475.1 484.3" y="448.7" font-size="16.3">90</text>
<clipPath id="c6"><path d="M643 461.8 H677.7 V478.3 H643 Z M647.7 478.2 H650.4 V484 H647.7 Z M654.7 478.2 H657.4 V484 H654.7 Z M662.3 478.2 H672.2 V484 H662.3 Z" stroke="none"/></clipPath><g clip-path="url(#c6)"><text x="644.6 651.6 660.6" y="480" font-size="18.2">112</text></g>
<clipPath id="c7"><path d="M519.5 461.5 H547.7 V476.8 H519.5 Z M524.2 476.7 H526.4 V482.5 H524.2 Z M529.4 476.7 H531.6 V482.5 H529.4 Z M534.8 476.7 H542.7 V482.5 H534.8 Z" stroke="none"/></clipPath><g clip-path="url(#c7)"><text transform="translate(523 478.5) scale(0.826 1)" x="-1.7 4.6 12.6" y="0" font-size="17.0">116</text></g>
<clipPath id="c8"><path d="M483 493.7 H513.8 V508.1 H483 Z M487.8 508 H490.2 V513.8 H487.8 Z M493.2 508 H501 V513.8 H493.2 Z M499 508 H508.8 V513.8 H499 Z" stroke="none"/></clipPath><g clip-path="url(#c8)"><text transform="translate(486.5 509.8) scale(0.872 1)" x="-1.6 6 14.9" y="0" font-size="16.1">106</text></g>
<clipPath id="c9"><path d="M450.8 513.7 H484.3 V529 H450.8 Z M455.6 528.9 H458.1 V534.7 H455.6 Z M461.8 528.9 H470.5 V534.7 H461.8 Z M468.5 528.9 H479.3 V534.7 H468.5 Z" stroke="none"/></clipPath><g clip-path="url(#c9)"><text transform="translate(454.3 530.7) scale(0.933 1)" x="-1.7 6.3 15.7" y="0" font-size="17.0">102</text></g>
<text transform="translate(651.5 537.9) scale(0.918 1)" x="0 13.1 31.6" y="0" font-size="19.6">SW9</text>
<text transform="translate(692 572.5) scale(0.981 1)" x="0 15.2" y="0" font-size="18.2">M2</text>
<text transform="translate(444.7 566.3) scale(0.863 1)" x="0 9.6" y="0" font-size="17.2">70</text>
<text transform="translate(438.5 619.3) scale(0.973 1)" x="0 10.8" y="0" font-size="19.4">38</text>
<text transform="translate(385.5 598.2) scale(0.890 1)" x="0 10.5" y="0" font-size="18.9">78</text>
<clipPath id="c10"><path d="M672.6 642 H706 V657.3 H672.6 Z M677.4 657.2 H679.9 V663 H677.4 Z M683.5 657.2 H692.2 V663 H683.5 Z M690.2 657.2 H701 V663 H690.2 Z" stroke="none"/></clipPath><g clip-path="url(#c10)"><text transform="translate(676.1 659) scale(0.929 1)" x="-1.7 6.3 15.7" y="0" font-size="17.0">120</text></g>
<clipPath id="c11"><path d="M265 473.4 H290.7 V487.8 H265 Z M268 487.7 H280.9 V493.5 H268 Z M280.6 487.7 H282.8 V493.5 H280.6 Z" stroke="none"/></clipPath><g clip-path="url(#c11)"><text transform="translate(268.5 489.5) scale(0.811 1)" x="0 11.8" y="0" font-size="16.1">M1</text></g>
<text transform="translate(255.1 555.2) scale(0.738 1)" x="0 8.4" y="0" font-size="15.1">74</text>
<text transform="translate(179.8 555.6) scale(0.910 1)" x="0 9.6" y="0" font-size="17.2">84</text>
<text transform="translate(25.9 500.4) scale(0.950 1)" x="0 11.9" y="0" font-size="21.4">86</text>
<text transform="translate(38.6 537.2) scale(0.876 1)" x="0 10.6" y="0" font-size="19.1">80</text>
<clipPath id="c12"><path d="M67.6 606.6 H93 V623.1 H67.6 Z M70.6 623 H81.8 V628.8 H70.6 Z M81.5 623 H84 V628.8 H81.5 Z" stroke="none"/></clipPath><g clip-path="url(#c12)"><text transform="translate(71.1 624.8) scale(0.914 1)" x="0 8.3" y="0" font-size="18.2">71</text></g>
<text transform="translate(132.1 625.6) scale(0.835 1)" x="0 10.1" y="0" font-size="18.2">72</text>
<text transform="translate(229.5 643.4) scale(0.938 1)" x="0 9.1" y="0" font-size="16.3">82</text>
<line x1="166.5" y1="55.5" x2="152" y2="73" stroke-width="1.65"/>
<path d="M152 73 L155.3 65.3 L159 68.4 Z" fill="#000" stroke="none"/>
<line x1="611" y1="40.6" x2="630.5" y2="37.3" stroke-width="1.54" stroke-dasharray="7 4"/>
<path d="M531 87.7 Q548 89.5 560 83.5 Q570 80 580.4 79.9" stroke-width="1.54" fill="none"/>
<line x1="498" y1="205.5" x2="502.2" y2="205.5" stroke-width="1.43"/>
<path d="M727.3 265 Q722 271.5 693.6 272" stroke-width="1.54" fill="none"/>
<path d="M693.4 272 L701.4 269.7 L701.4 274.3 Z" fill="#000" stroke="none"/>
<path d="M504.3 291.3 Q520 291 530 302 Q535 308 541 311" stroke-width="1.54" fill="none"/>
<path d="M481.4 312 Q495 314.5 505 309 Q512 306.3 517 307.5" stroke-width="1.54" fill="none"/>
<path d="M512 331 Q520 337.5 537 335.6" stroke-width="1.54" fill="none"/>
<path d="M651 345.5 L636 345.3 Q612 344.5 590 336 Q575 329 569.5 316" stroke-width="1.54" fill="none"/>
<path d="M513.4 347.4 Q522 347 526 355 Q528 361 530.4 365.6" stroke-width="1.54" fill="none"/>
<path d="M441 348 Q441.5 354 438.5 359.5" stroke-width="1.54" fill="none"/>
<path d="M654 411.3 Q651 421 636.5 425" stroke-width="1.54" fill="none"/>
<path d="M635.4 425.4 L642.5 421 L643.7 425.6 Z" fill="#000" stroke="none"/>
<line x1="497" y1="445.5" x2="526.5" y2="444.8" stroke-width="1.54"/>
<path d="M526.5 444.8 L519.6 447.2 L519.4 442.8 Z" fill="#000" stroke="none"/>
<line x1="623.4" y1="468.2" x2="644.3" y2="468.2" stroke-width="1.54" stroke-dasharray="8 4"/>
<path d="M529.6 485.2 Q540 497 555 500 Q566 503 568 510" stroke-width="1.65" fill="none"/>
<path d="M498.6 517 Q508 530 524 534 Q533 537 536 547.5" stroke-width="1.65" fill="none"/>
<path d="M483 527 Q494 530 500 543 Q506 555 516 557" stroke-width="1.54" fill="none"/>
<line x1="597" y1="538.3" x2="648" y2="529.5" stroke-width="1.54" stroke-dasharray="8 4"/>
<line x1="691.2" y1="564.7" x2="670.6" y2="570" stroke-width="1.54"/>
<path d="M670.6 570 L676.8 566.1 L677.9 570.4 Z" fill="#000" stroke="none"/>
<line x1="461" y1="569.4" x2="454.5" y2="594.5" stroke-width="1.54"/>
<path d="M454.5 594.5 L454.5 585.2 L459 586.4 Z" fill="#000" stroke="none"/>
<path d="M462.3 615.8 Q480 614 491.3 611 L518 601.6" stroke-width="1.54" fill="none"/>
<path d="M524 599.5 L516.3 604.9 L514.6 600 Z" fill="#000" stroke="none"/>
<path d="M381 590.5 Q362 588 352 571" stroke-width="1.54" fill="none"/>
<line x1="632.5" y1="634.3" x2="674" y2="648.6" stroke-width="1.54" stroke-dasharray="9 5"/>
<line x1="285.5" y1="488.3" x2="290" y2="490" stroke-width="1.43"/>
<line x1="50.7" y1="497.2" x2="69.2" y2="493.8" stroke-width="1.65"/>
<path d="M69.2 493.8 L61.8 497.6 L60.9 492.9 Z" fill="#000" stroke="none"/>
<path d="M59.4 533.2 Q65.5 531.5 65 526 Q64.5 521.5 70 518.5 L76 516.3" stroke-width="1.54" fill="none"/>
<path d="M81 514.8 L74.4 520 L72.6 515.1 Z" fill="#000" stroke="none"/>
<path d="M65.8 530.9 Q74 536.5 84.9 539.6" stroke-width="1.54" fill="none"/>
<line x1="85.8" y1="591" x2="76.8" y2="605.3" stroke-width="1.54"/>
<path d="M150.8 619.6 Q159 617 161.5 606 Q164 588 170.5 575" stroke-width="1.54" fill="none"/>
<path d="M174 568.6 L172 577.7 L167.6 575.4 Z" fill="#000" stroke="none"/>
<path d="M226 594.2 Q231.5 608 224 622 Q222 627 222.2 630" stroke-width="1.54" fill="none"/>
</svg>
</body></html>
